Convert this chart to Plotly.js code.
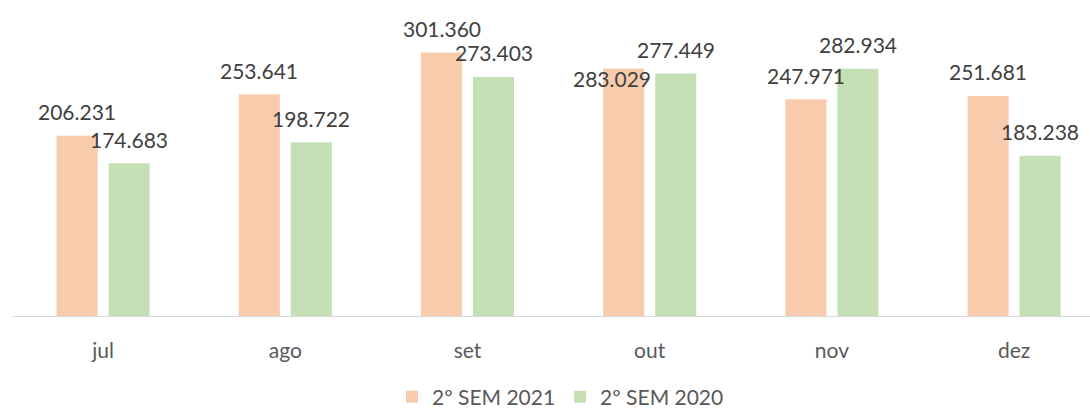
<!DOCTYPE html>
<html>
<head>
<meta charset="utf-8">
<script src="https://cdn.plot.ly/plotly-3.0.1.min.js"></script>
<style>
  html, body { margin: 0; padding: 0; background: #fff; overflow: hidden; }
  #chart { width: 1090px; height: 410px; }
</style>
</head>
<body>
<div id="chart"></div>
<script>
// ---- data ----
const months = ['jul', 'ago', 'set', 'out', 'nov', 'dez'];
const sem2021 = [206231, 253641, 301360, 283029, 247971, 251681];
const sem2020 = [174683, 198722, 273403, 277449, 282934, 183238];
const seriesNames = ['2º SEM 2021', '2º SEM 2020'];

// ---- styles ----
const COLOR_2021 = '#F8CBAD';
const COLOR_2020 = '#C5E0B4';
const FONT = 'Lato, "Open Sans", sans-serif';
const LABEL_COLOR = '#404040';
const AXIS_COLOR = '#595959';

function fmt(v) {
  return String(v).replace(/\B(?=(\d{3})+(?!\d))/g, '.');
}

const traces = [
  { type: 'bar', name: seriesNames[0], x: months, y: sem2021,
    marker: { color: COLOR_2021 }, hoverinfo: 'x+y' },
  { type: 'bar', name: seriesNames[1], x: months, y: sem2020,
    marker: { color: COLOR_2020 }, hoverinfo: 'x+y' }
];

// data labels (positioned from the data via axis scales)
const GROUP_SHIFT = 26;   // px from category centre to each bar centre
const LABEL_LIFT = 24;    // px above bar top
// manually-moved label in the original (out / 2021)
const nudges = { '0-3': { dx: -12, dy: -34 } };

const annotations = [];
[sem2021, sem2020].forEach((vals, s) => {
  vals.forEach((v, i) => {
    const n = nudges[s + '-' + i] || { dx: 0, dy: 0 };
    annotations.push({
      x: months[i], y: v, xref: 'x', yref: 'y',
      text: fmt(v), showarrow: false,
      xanchor: 'center', yanchor: 'middle',
      xshift: (s === 0 ? -GROUP_SHIFT : GROUP_SHIFT) + n.dx,
      yshift: LABEL_LIFT + n.dy,
      font: { family: FONT, size: 21, color: LABEL_COLOR }
    });
  });
});

const layout = {
  width: 1090, height: 410,
  margin: { l: 12, r: 0, t: 10, b: 94, autoexpand: false },
  paper_bgcolor: '#ffffff', plot_bgcolor: '#ffffff',
  barmode: 'group', bargap: 0.429, bargroupgap: 0.21,
  font: { family: FONT, size: 21, color: AXIS_COLOR },
  xaxis: {
    type: 'category', range: [-0.5, 5.4166],
    showline: true, linecolor: '#D9D9D9', linewidth: 1,
    ticks: 'outside', ticklen: 16, tickcolor: 'rgba(0,0,0,0)',
    tickfont: { family: FONT, size: 21, color: AXIS_COLOR },
    showgrid: false, zeroline: false, fixedrange: true, automargin: false
  },
  yaxis: {
    range: [0, 350000], showgrid: false, zeroline: false,
    showticklabels: false, showline: false, ticks: '', fixedrange: true
  },
  showlegend: true,
  legend: {
    orientation: 'h', xanchor: 'left', yanchor: 'middle',
    x: 0.3525, y: -0.2647,
    font: { family: FONT, size: 21, color: AXIS_COLOR },
    bgcolor: 'rgba(0,0,0,0)'
  },
  annotations: annotations
};

Plotly.newPlot('chart', traces, layout, { staticPlot: true, displayModeBar: false });
</script>
</body>
</html>
